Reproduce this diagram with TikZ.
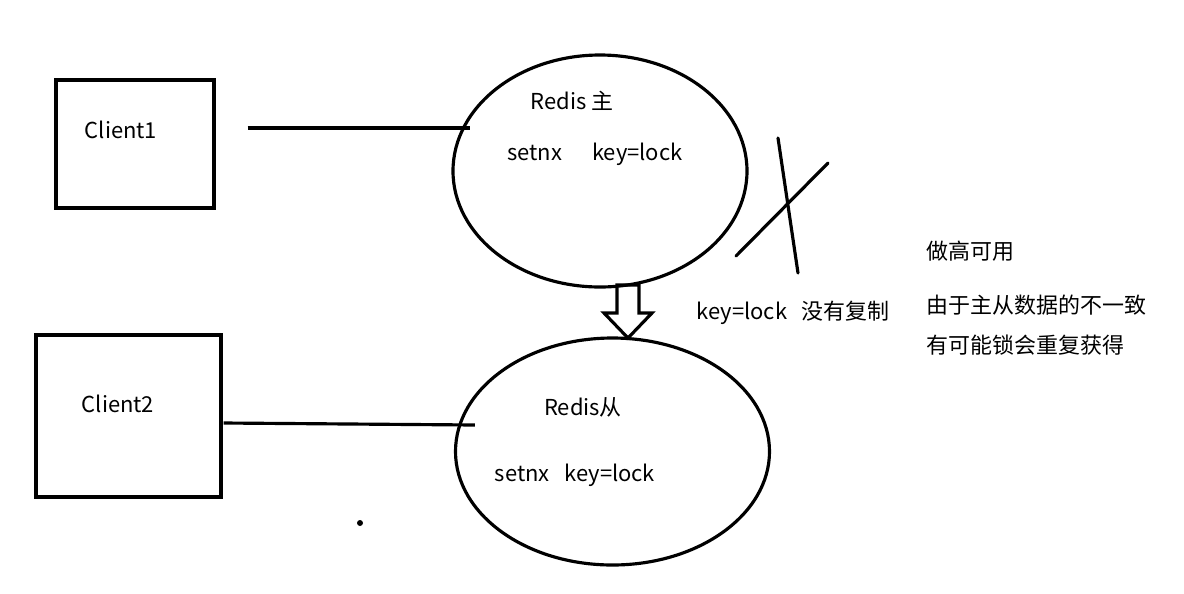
\documentclass[tikz,border=0pt]{standalone}
\usepackage{fontspec}
\setmainfont{Noto Sans CJK SC}
\usepackage{tikz}
\usetikzlibrary{positioning,calc,shapes.geometric}

\begin{document}
\begin{tikzpicture}[
						x=0.02cm, y=-0.02cm,
						% Hộp client
						clientbox/.style={
							draw=black, line width=1.8pt,
							inner sep=0pt
						},
						% Nút Redis (hình elip)
						redisnode/.style={
							ellipse, draw=black, line width=1.8pt,
							inner sep=0pt
						},
						% Đường nối
						link/.style={
							black, line width=1.8pt
						},
						% Nhãn chữ
						txt/.style={
							font=\fontsize{12.5}{15}\selectfont, inner sep=0pt
						}
						]
						
						\useasboundingbox (0,0) rectangle (1184,593);
						
						% --- Client ---
						\node[clientbox, minimum width=158*0.02cm, minimum height=128*0.02cm] (c1) at (135,144) {};
						\node[txt] (c1t) at (121,130) {Client1};
						\node[clientbox, minimum width=185*0.02cm, minimum height=162*0.02cm] (c2) at (128.5,416) {};
						\node[txt] (c2t) at (118,404) {Client2};
						
						% --- Redis chủ / tớ ---
						\node[redisnode, minimum width=294*0.02cm, minimum height=232*0.02cm] (master) at (600,171) {};
						\node[txt] (mt) at (572,101) {Redis 主};
						\node[txt] (ms) at (595,154) {setnx\hspace{17pt}key=lock};
						\node[redisnode, minimum width=314*0.02cm, minimum height=227*0.02cm] (slave) at (612.5,451.5) {};
						\node[txt] (st) at (583,407) {Redis从};
						\node[txt] (ss) at (575,475) {setnx\hspace{8.5pt}key=lock};
						
						% Đường nối client -> redis
						\coordinate (l1a) at ($(c1.east)+(32,-16)$);
						\coordinate (l1b) at ($(master.west)+(19,-43)$);
						\draw[link] (l1a) -- (l1b);
						\coordinate (l2a) at ($(c2.east)+(1,7)$);
						\coordinate (l2b) at ($(slave.west)+(21,-26.5)$);
						\draw[link] (l2a) -- (l2b);
						
						% Mũi tên rỗng (sao chép)
						\coordinate (ar) at (628,285);
						\draw[line width=1.8pt, line join=miter] ($(ar)+(-11,0)$) -- ($(ar)+(11,0)$) -- ($(ar)+(11,28)$)
							-- ($(ar)+(24,28)$) -- ($(ar)+(0,53)$) -- ($(ar)+(-24,28)$) -- ($(ar)+(-11,28)$) -- cycle;
						
						% Dấu gạch chéo: không sao chép
						\coordinate (x1a) at (778,138);
						\coordinate (x1b) at (798,273);
						\coordinate (x2a) at (828,163);
						\coordinate (x2b) at (736,256);
						\draw[link, line cap=round] (x1a) -- (x1b);
						\draw[link, line cap=round] (x2a) -- (x2b);
						\node[txt] (nocopy) at (793,313) {key=lock\hspace{8pt}没有复制};
						
						% Ghi chú
						\node[txt, anchor=west] (n1) at (926,251) {做高可用};
						\node[txt, anchor=west] (n2) at (926,305) {由于主从数据的不一致};
						\node[txt, anchor=west] (n3) at (926,345) {有可能锁会重复获得};
						
						% Chấm nhỏ
						\fill (360,523) circle (3);
						
					\end{tikzpicture}
\end{document}
